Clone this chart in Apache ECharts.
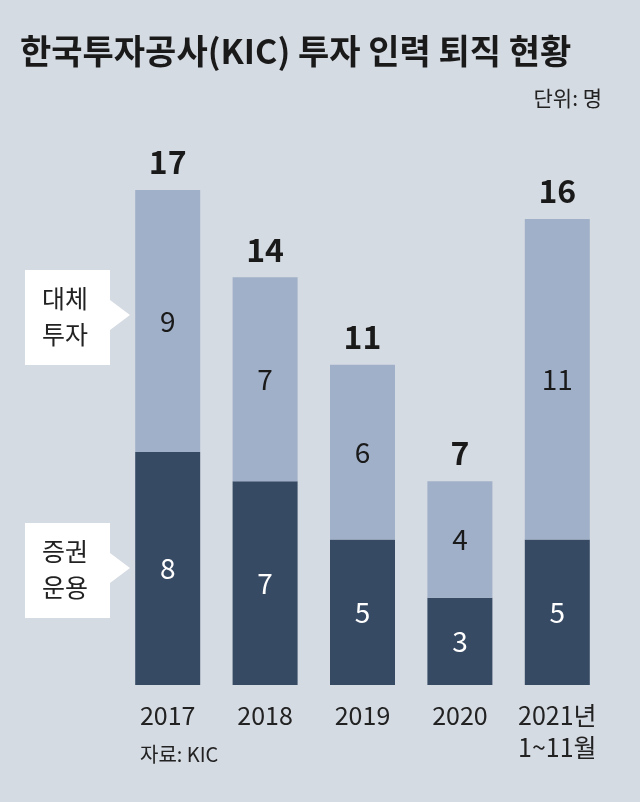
<!DOCTYPE html><html><head><meta charset="utf-8">
<script src="https://cdn.jsdelivr.net/npm/echarts@6/dist/echarts.min.js"></script>
<style>html,body{margin:0;padding:0;background:#d5dbe3}#c{width:640px;height:802px}</style></head><body><div id="c"></div>
<script>
const categories=['2017','2018','2019','2020','2021년\n1~11월'];
const securities=[8,7,5,3,5];
const alternative=[9,7,6,4,11];
const totals=[17,14,11,7,16];
const F='"Noto Sans CJK KR","Liberation Sans",sans-serif';
const chart=echarts.init(document.getElementById('c'));
function callout(y,t){return [
 {type:'polygon',shape:{points:[[25,y],[110,y],[110,y+30],[130,y+45],[110,y+60],[110,y+95],[25,y+95]]},style:{fill:'#fff'}},
 {type:'text',left:42,top:y+10,style:{text:t,font:'400 25px '+F,fill:'#222',lineHeight:36}}];}
chart.setOption({
 backgroundColor:'#d5dbe3',
 graphic:[
  {type:'text',left:20,top:34,style:{text:'한국투자공사(KIC) 투자 인력 퇴직 현황',font:'700 34px '+F,fill:'#1a1a1a'}},
  {type:'text',right:38,top:88,style:{text:'단위: 명',font:'400 21px '+F,fill:'#222'}},
  {type:'text',left:140,top:744,style:{text:'자료: KIC',font:'400 20px '+F,fill:'#222'}},
  ...callout(270,'대체\n투자'),...callout(523,'증권\n운용')
 ],
 grid:{left:119,right:34,top:190,bottom:117},
 xAxis:{type:'category',data:categories,axisLine:{show:false},axisTick:{show:false},
  axisLabel:{interval:0,fontFamily:F,fontSize:25,color:'#222',margin:14,lineHeight:32,verticalAlign:'top'}},
 yAxis:{type:'value',min:0,max:17,show:false,splitLine:{show:false}},
 series:[
  {type:'bar',stack:'a',data:securities,barWidth:65,itemStyle:{color:'#374a64'},
   label:{show:true,position:'inside',fontFamily:F,fontSize:28,color:'#fff'}},
  {type:'bar',stack:'a',data:alternative,barWidth:65,itemStyle:{color:'#a0b0c8'},
   label:{show:true,position:'inside',fontFamily:F,fontSize:28,color:'#1a1a1a'}},
  {type:'bar',stack:'a',data:alternative.map(()=>0),barWidth:65,itemStyle:{color:'transparent'},
   label:{show:true,position:'top',distance:12,formatter:p=>totals[p.dataIndex],fontFamily:F,fontSize:32,fontWeight:'bold',color:'#1a1a1a'}}
 ]
});
</script></body></html>
